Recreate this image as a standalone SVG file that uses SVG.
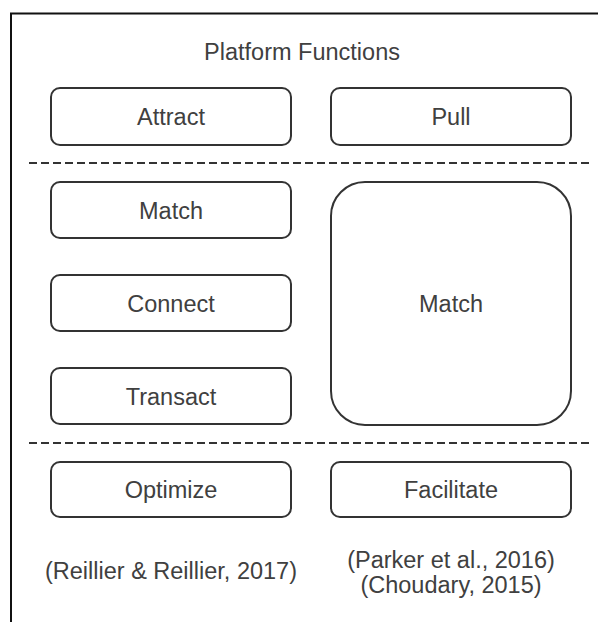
<svg xmlns="http://www.w3.org/2000/svg" width="598" height="622" viewBox="0 0 598 622">
  <style>
    .box { fill: #ffffff; stroke: #333333; stroke-width: 2; }
    .lbl { font-family: "Liberation Sans", Arial, sans-serif; font-size: 23.5px; fill: #404040; text-anchor: middle; }
    .sep { stroke: #333333; stroke-width: 2; stroke-dasharray: 8 4; fill: none; }
    .frame { stroke: #111111; stroke-width: 2; fill: none; }
  </style>
  <rect width="598" height="622" fill="#ffffff"/>

  <!-- outer frame (top and left edges) -->
  <path class="frame" d="M11,622 V13.5 H598"/>

  <text class="lbl" x="302" y="60">Platform Functions</text>

  <g id="attract">
    <rect class="box" x="51" y="88" width="240" height="57" rx="9"/>
    <text class="lbl" x="171" y="125">Attract</text>
  </g>
  <g id="pull">
    <rect class="box" x="331" y="88" width="240" height="57" rx="9"/>
    <text class="lbl" x="451" y="125">Pull</text>
  </g>

  <g id="separators">
    <line class="sep" x1="29" y1="163" x2="592" y2="163"/>
    <line class="sep" x1="29" y1="443" x2="592" y2="443"/>
  </g>

  <g id="match-left">
    <rect class="box" x="51" y="182" width="240" height="56" rx="9"/>
    <text class="lbl" x="171" y="218.5">Match</text>
  </g>
  <g id="connect">
    <rect class="box" x="51" y="275" width="240" height="56" rx="9"/>
    <text class="lbl" x="171" y="311.5">Connect</text>
  </g>
  <g id="transact">
    <rect class="box" x="51" y="368" width="240" height="56" rx="9"/>
    <text class="lbl" x="171" y="404.5">Transact</text>
  </g>

  <g id="match-right">
    <rect class="box" x="331" y="182" width="240" height="243" rx="34"/>
    <text class="lbl" x="451" y="311.5">Match</text>
  </g>

  <g id="optimize">
    <rect class="box" x="51" y="462" width="240" height="55" rx="9"/>
    <text class="lbl" x="171" y="498">Optimize</text>
  </g>
  <g id="facilitate">
    <rect class="box" x="331" y="462" width="240" height="55" rx="9"/>
    <text class="lbl" x="451" y="498">Facilitate</text>
  </g>

  <g id="sources">
    <text class="lbl" x="171" y="579">(Reillier &amp; Reillier, 2017)</text>
    <text class="lbl" x="451" y="568">(Parker et al., 2016)</text>
    <text class="lbl" x="451" y="593">(Choudary, 2015)</text>
  </g>
</svg>
